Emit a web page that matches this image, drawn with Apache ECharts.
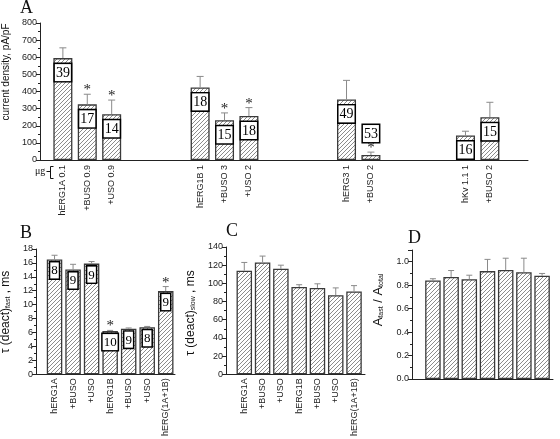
<!DOCTYPE html>
<html>
<head>
<meta charset="utf-8">
<script src="https://cdn.jsdelivr.net/npm/echarts@6/dist/echarts.min.js"></script>
<style>html,body{margin:0;padding:0;background:#fff}#c{width:560px;height:439px}</style>
</head>
<body>
<div id="c"></div>
<script>
// ---------- data ----------
const A_CATS = ['hERG1A 0.1', '+BUSO 0.9', '+USO 0.9', 'hERG1B 1', '+BUSO 3', '+USO 2', 'hERG3 1', '+BUSO 2', 'hKv 1.1 1', '+BUSO 2'];
const A_VALS = [595, 325, 267, 424, 232, 257, 354, 29, 143, 250];
const A_ERR  = [60, 59, 83, 64, 43, 49, 111, 17, 25, 87];
const A_N    = [39, 17, 14, 18, 15, 18, 49, 53, 16, 15];
const A_SIG  = [0, 1, 1, 0, 1, 1, 0, 1, 0, 0];

const BCD_CATS = ['hERG1A', '+BUSO', '+USO', 'hERG1B', '+BUSO', '+USO', 'hERG(1A+1B)'];
const B_VALS = [16.5, 15.05, 15.9, 6.2, 6.55, 6.75, 11.95];
const B_ERR  = [0.6, 0.75, 0.3, 0.1, 0.1, 0.12, 0.65];
const B_N    = [8, 9, 9, 10, 9, 8, 9];
const B_SIG  = [0, 0, 0, 1, 0, 0, 1];
const C_VALS = [114, 123, 116, 96, 95, 87, 91];
const C_ERR  = [9, 7, 4, 2.5, 4.5, 8, 6.5];
const D_VALS = [0.84, 0.87, 0.85, 0.92, 0.93, 0.91, 0.88];
const D_ERR  = [0.015, 0.055, 0.035, 0.10, 0.10, 0.12, 0.02];

// ---------- layout ----------
const A_SLOTS_TOTAL = 160;
const A_SLOT = [7, 15, 23, 52, 60, 68, 100, 108, 139, 147];
const A_LABEL_ABOVE = [7];

function hatch() {
  const n = 8;
  const c = document.createElement('canvas');
  c.width = n; c.height = n;
  const g = c.getContext('2d');
  g.fillStyle = '#fff'; g.fillRect(0, 0, n, n);
  g.strokeStyle = '#8c8c8c'; g.lineWidth = 1;
  g.beginPath();
  for (let k = 0; k <= 2 * n; k += 4) { g.moveTo(k + 1, -1); g.lineTo(k - n - 1, n + 1); }
  g.stroke();
  return c;
}
const PAT = { image: hatch(), repeat: 'repeat' };
const BAR_STYLE = { color: PAT, borderColor: '#3a3a3a', borderWidth: 1.3 };
const SANS = 'Liberation Sans, Arial, sans-serif';
const SERIF = 'Liberation Serif, Times New Roman, serif';

const yAxisBase = (gi, min, max, interval, fmt) => ({
  type: 'value', gridIndex: gi, min, max, interval,
  axisLine: { show: true, onZero: false, lineStyle: { color: '#222', width: 1 } },
  axisTick: { show: true, length: 4, lineStyle: { color: '#222' } },
  minorTick: { show: true, splitNumber: 2, length: 2, lineStyle: { color: '#222' } },
  splitLine: { show: false },
  axisLabel: { fontFamily: SANS, fontSize: 9, color: '#222', margin: 3, formatter: fmt }
});

const xValAxis = (gi, min, max) => ({
  type: 'value', gridIndex: gi, min, max, interval: 1,
  axisLine: { show: true, onZero: false, lineStyle: { color: '#222', width: 1 } },
  axisTick: { show: false }, splitLine: { show: false },
  axisLabel: {
    rotate: 90, fontFamily: SANS, fontSize: 9, color: '#222', margin: 4,
    formatter: v => (Number.isInteger(v) && BCD_CATS[v - 1]) ? BCD_CATS[v - 1] : ''
  }
});

const aCatData = Array.from({ length: A_SLOTS_TOTAL }, () => '');
A_SLOT.forEach((s, i) => { aCatData[s] = A_CATS[i]; });
const aBarData = Array.from({ length: A_SLOTS_TOTAL }, () => '-');
A_SLOT.forEach((s, i) => {
  const item = { value: A_VALS[i], n: A_N[i] };
  if (A_LABEL_ABOVE.includes(i)) item.label = { position: 'top', distance: 13 };
  aBarData[s] = item;
});
const aErrData = A_SLOT.map((s, i) => [s, A_VALS[i], A_ERR[i], A_SIG[i]]);

function errRender(capHalf) {
  return function (params, api) {
    const x = api.value(0), v = api.value(1), e = api.value(2), s = api.value(3);
    const p0 = api.coord([x, v]);
    const p1 = api.coord([x, v + e]);
    const children = [
      { type: 'line', shape: { x1: p0[0], y1: p0[1], x2: p1[0], y2: p1[1] }, style: { stroke: '#8a8a8a', lineWidth: 1 } },
      { type: 'line', shape: { x1: p1[0] - capHalf, y1: p1[1], x2: p1[0] + capHalf, y2: p1[1] }, style: { stroke: '#8a8a8a', lineWidth: 1 } }
    ];
    if (s) children.push({ type: 'text', x: p1[0], y: p1[1] - 4, style: { text: '*', font: '15px ' + SERIF, fill: '#222', align: 'center', verticalAlign: 'middle' } });
    return { type: 'group', children };
  };
}

const idxData = (vals, errs, sig) => vals.map((v, i) => [i + 1, v, errs[i], sig ? sig[i] : 0]);
const subRich = (size) => ({
  m: { fontFamily: SANS, fontSize: size, fill: '#111', verticalAlign: 'bottom' },
  s: { fontFamily: SANS, fontSize: 7, fill: '#111', verticalAlign: 'bottom', lineHeight: 6 }
});

const chart = echarts.init(document.getElementById('c'), null, { renderer: 'canvas' });
chart.setOption({
  animation: false,
  backgroundColor: '#fff',
  grid: [
    { left: 40, right: 32, top: 23, bottom: 279 },
    { left: 36, right: 385, top: 249, bottom: 59 },
    { left: 226, right: 195, top: 247, bottom: 62 },
    { left: 412, right: 7, top: 250, bottom: 60 }
  ],
  xAxis: [
    {
      type: 'category', gridIndex: 0, data: aCatData, boundaryGap: true,
      axisLine: { show: true, lineStyle: { color: '#222', width: 1 } },
      axisTick: { show: false },
      axisLabel: { interval: 0, rotate: 90, fontFamily: SANS, fontSize: 9, color: '#222', margin: 5 }
    },
    xValAxis(1, 0, 7.5),
    xValAxis(2, 0, 7.6),
    xValAxis(3, -0.15, 7.6)
  ],
  yAxis: [
    yAxisBase(0, 0, 800, 100),
    yAxisBase(1, 0, 18, 2),
    yAxisBase(2, 0, 140, 20),
    yAxisBase(3, 0, 1.1, 0.2, v => (v > 1.05 ? '' : v.toFixed(1)))
  ],
  series: [
    {
      type: 'bar', xAxisIndex: 0, yAxisIndex: 0, data: aBarData, barWidth: 19,
      itemStyle: BAR_STYLE,
      label: {
        show: true, position: 'insideTop', distance: 6,
        fontFamily: SERIF, fontSize: 14, color: '#000', lineHeight: 14,
        backgroundColor: '#fff', borderColor: '#000', borderWidth: 1.5, padding: [2, 1, 1, 1],
        formatter: p => String(p.data.n)
      }
    },
    { type: 'custom', xAxisIndex: 0, yAxisIndex: 0, data: aErrData, renderItem: errRender(3.5), encode: { x: 0, y: 1 }, z: 3 },

    {
      type: 'bar', xAxisIndex: 1, yAxisIndex: 1, barWidth: 15.5, itemStyle: BAR_STYLE,
      data: B_VALS.map((v, i) => [i + 1, v]),
      label: {
        show: true, position: 'insideTop', distance: 3,
        fontFamily: SERIF, fontSize: 13, color: '#000', lineHeight: 13,
        backgroundColor: '#fff', borderColor: '#000', borderWidth: 1.5, padding: [2, 1, 1, 1],
        formatter: p => String(B_N[p.dataIndex])
      }
    },
    { type: 'custom', xAxisIndex: 1, yAxisIndex: 1, data: idxData(B_VALS, B_ERR, B_SIG), renderItem: errRender(3), encode: { x: 0, y: 1 }, z: 3 },

    { type: 'bar', xAxisIndex: 2, yAxisIndex: 2, barWidth: 15.5, itemStyle: BAR_STYLE, data: C_VALS.map((v, i) => [i + 1, v]) },
    { type: 'custom', xAxisIndex: 2, yAxisIndex: 2, data: idxData(C_VALS, C_ERR), renderItem: errRender(3), encode: { x: 0, y: 1 }, z: 3 },

    { type: 'bar', xAxisIndex: 3, yAxisIndex: 3, barWidth: 15.5, itemStyle: BAR_STYLE, data: D_VALS.map((v, i) => [i + 1, v]) },
    { type: 'custom', xAxisIndex: 3, yAxisIndex: 3, data: idxData(D_VALS, D_ERR), renderItem: errRender(3), encode: { x: 0, y: 1 }, z: 3 }
  ],
  graphic: [
    { type: 'text', left: 20, top: -1, style: { text: 'A', font: '18px ' + SERIF, fill: '#111' } },
    { type: 'text', left: 20, top: 224, style: { text: 'B', font: '18px ' + SERIF, fill: '#111' } },
    { type: 'text', left: 226, top: 222, style: { text: 'C', font: '18px ' + SERIF, fill: '#111' } },
    { type: 'text', left: 408, top: 229, style: { text: 'D', font: '18px ' + SERIF, fill: '#111' } },
    {
      type: 'text', x: 6, y: 72, rotation: Math.PI / 2,
      style: { text: 'current density, pA/pF', font: '10px ' + SANS, fill: '#111', align: 'center', verticalAlign: 'middle' }
    },
    {
      type: 'text', x: 6, y: 312, rotation: Math.PI / 2,
      style: { text: '{m|τ (deact)}{s|fast}{m| , ms}', align: 'center', verticalAlign: 'middle', rich: subRich(12) }
    },
    {
      type: 'text', x: 191, y: 313, rotation: Math.PI / 2,
      style: { text: '{m|τ (deact)}{s|slow}{m| , ms}', align: 'center', verticalAlign: 'middle', rich: subRich(12) }
    },
    {
      type: 'text', x: 378, y: 300, rotation: Math.PI / 2,
      style: { text: '{m|A}{s|fast}{m| / A}{s|total}', align: 'center', verticalAlign: 'middle', rich: subRich(13) }
    },
    { type: 'text', left: 35, top: 166, style: { text: 'μg', font: '10px ' + SERIF, fill: '#111' } },
    { type: 'polyline', shape: { points: [[46.5, 171.5], [50.5, 171.5]] }, style: { stroke: '#111', lineWidth: 1, fill: null } },
    { type: 'polyline', shape: { points: [[53.5, 166.5], [50.5, 166.5], [50.5, 178.5], [53.5, 178.5]] }, style: { stroke: '#111', lineWidth: 1, fill: null } }
  ]
});
</script>
</body>
</html>
